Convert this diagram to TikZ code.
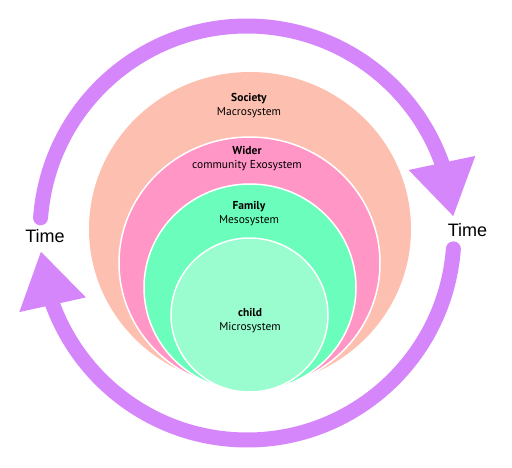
\documentclass[tikz,border=0pt]{standalone}
\usepackage{fontspec}
\setmainfont{PT Sans}
\newfontfamily\timefont{Liberation Sans}
\usetikzlibrary{arrows.meta,bending,shapes.geometric}
\definecolor{macro}{RGB}{253,192,176}
\definecolor{exo}{RGB}{255,150,198}
\definecolor{meso}{RGB}{106,253,188}
\definecolor{micro}{RGB}{154,253,208}
\definecolor{timearc}{RGB}{213,134,250}
\begin{document}
\begin{tikzpicture}[x=1pt,y=1pt,
	ring/.style={ellipse,draw=white,line width=1.5pt,inner sep=0pt},
	lbl/.style={align=center,font=\fontsize{11.5}{14}\selectfont},
	timelbl/.style={font=\timefont\fontsize{18}{18}\selectfont},
	timearrow/.style={line width=15pt,draw=timearc,line cap=round,-{Triangle[length=55pt,width=64pt,flex]}}]
\useasboundingbox (0,0) rectangle (512,467);

\coordinate (O) at (247,234);

\node[ring,fill=macro,draw=none,minimum width=322,minimum height=314] (soc) at (250,238) {};
\node[ring,fill=exo,minimum width=261,minimum height=252] (wid) at (249.5,204) {};
\node[ring,fill=meso,minimum width=212,minimum height=207] (fam) at (250,179.5) {};
\node[ring,fill=micro,minimum width=157,minimum height=154] (chi) at (249.5,152) {};

\node[lbl] (socl) at (249,361) {\textbf{Society}\\Macrosystem};
\node[lbl] (widl) at (247,308) {\textbf{Wider}\\community Exosystem};
\node[lbl] (faml) at (249,253) {\textbf{Family}\\Mesosystem};
\node[lbl] (chil) at (250,146) {\textbf{child}\\Microsystem};

\node[timelbl] (tl) at (45,231) {Time};
\node[timelbl] (tr) at (467.5,237) {Time};

\draw[timearrow] (O) ++(175.8:207) arc[start angle=175.8,end angle=4.5,radius=207];
\draw[timearrow] (O) ++(-4.4:207) arc[start angle=-4.4,end angle=-175,radius=207];
\end{tikzpicture}
\end{document}
